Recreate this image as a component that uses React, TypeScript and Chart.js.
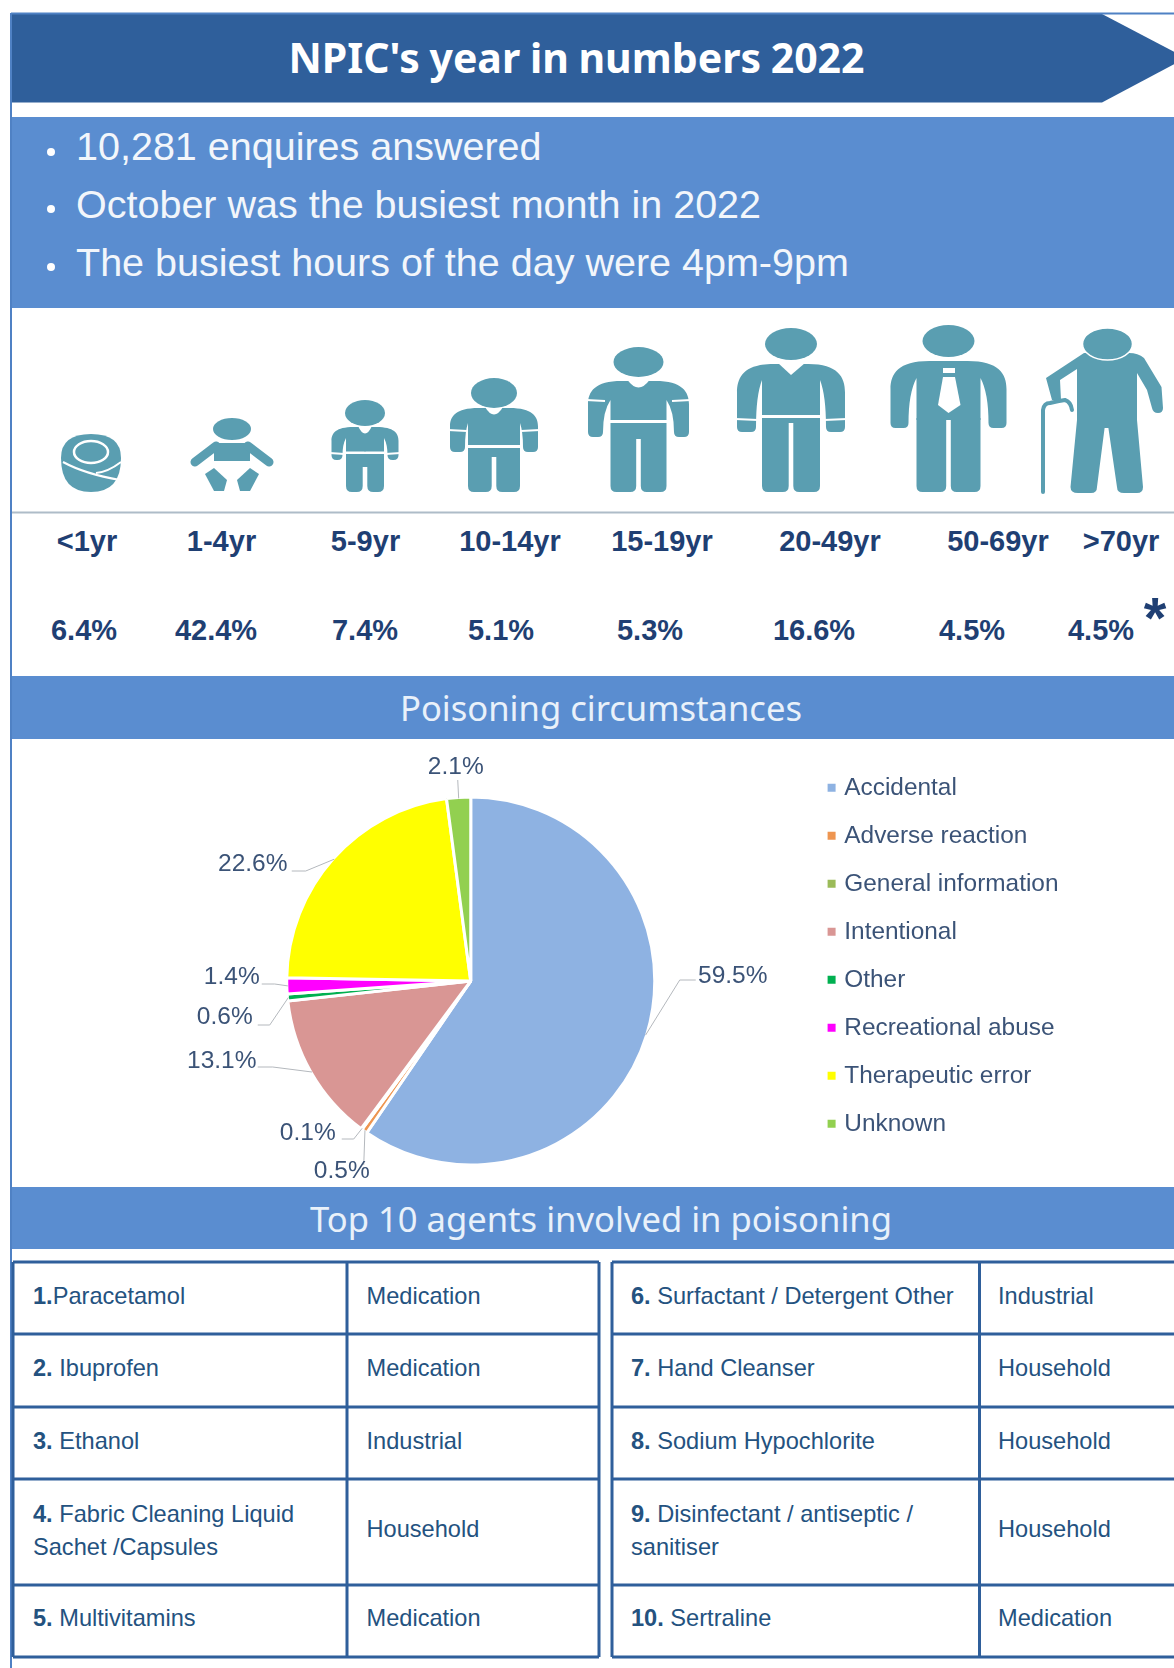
import React, { useEffect, useRef } from "react";
import { Chart, registerables } from "chart.js";

Chart.register(...registerables);

// ---- data ----
const pageTitle = "NPIC's year in numbers 2022";
const summaryLines = [
  "10,281 enquires answered",
  "October was the busiest month in 2022",
  "The busiest hours of the day were 4pm-9pm",
];
const ageBands = ["<1yr", "1-4yr", "5-9yr", "10-14yr", "15-19yr", "20-49yr", "50-69yr", ">70yr"];
const agePercents = ["6.4%", "42.4%", "7.4%", "5.1%", "5.3%", "16.6%", "4.5%", "4.5%"];
const pieHeading = "Poisoning circumstances";
const circumstances = [
  "Accidental",
  "Adverse reaction",
  "General information",
  "Intentional",
  "Other",
  "Recreational abuse",
  "Therapeutic error",
  "Unknown",
];
const circumstanceValues = [59.5, 0.5, 0.1, 13.1, 0.6, 1.4, 22.6, 2.1];
const agentsHeading = "Top 10 agents involved in poisoning";
const agentRanks = ["1.", "2. ", "3. ", "4. ", "5. ", "6. ", "7. ", "8. ", "9. ", "10. "];
const agentFirstLines = [
  "Paracetamol",
  "Ibuprofen",
  "Ethanol",
  "Fabric Cleaning Liquid",
  "Multivitamins",
  "Surfactant / Detergent Other",
  "Hand Cleanser",
  "Sodium Hypochlorite",
  "Disinfectant / antiseptic /",
  "Sertraline",
];
const agentSecondLines = ["", "", "", "Sachet /Capsules", "", "", "", "", "sanitiser", ""];
const agentTypes = [
  "Medication",
  "Medication",
  "Industrial",
  "Household",
  "Medication",
  "Industrial",
  "Household",
  "Household",
  "Household",
  "Medication",
];

// ---- styling and layout, kept apart from the values ----
const sliceColors = ["#8eb2e2", "#ee9550", "#9bbb59", "#d99694", "#00b050", "#ff00ff", "#ffff00", "#92d050"];
const NAVY = "#1f3f73";
const BAND = "#5a8dd0";
const DEEP = "#2f5f9b";
const ICON = "#5a9eb1";
const PIE_TEXT = "#3b5377";
const TABLE_TEXT = "#24527f";
const ARIAL = '"Liberation Sans", Arial, sans-serif';

const ageLabelX = [87, 221.5, 365.5, 510, 662, 830, 998, 1121];
const agePctX = [84, 216, 365, 501, 650, 814, 972, 1101];
const summaryY = [147, 205, 263];

// label centre and optional elbow, relative to the pie centre
const labelPlacement: { dx: number; dy: number; from: [number, number]; elbow?: [number, number] }[] = [
  { dx: 262, dy: -5, from: [225, -1], elbow: [209, -1] },
  { dx: -129, dy: 190, from: [-107, 184] },
  { dx: -163, dy: 152.5, from: [-129, 158], elbow: [-117, 158] },
  { dx: -249, dy: 80, from: [-213, 86], elbow: [-198, 86] },
  { dx: -246, dy: 36.5, from: [-213, 44], elbow: [-201, 44] },
  { dx: -239, dy: -4, from: [-209, 3], elbow: [-196, 3] },
  { dx: -218, dy: -117, from: [-179, -110], elbow: [-165, -110] },
  { dx: -15, dy: -214, from: [-13, -201] },
];

const pieLabels = {
  id: "pieLabels",
  afterDatasetsDraw(chart: any) {
    const { ctx } = chart;
    const arcs = chart.getDatasetMeta(0).data;
    ctx.save();
    ctx.font = `24.5px ${ARIAL}`;
    ctx.textAlign = "center";
    ctx.textBaseline = "middle";
    arcs.forEach((arc: any, i: number) => {
      const p = arc.getProps(["x", "y", "startAngle", "endAngle", "outerRadius"], true);
      const mid = (p.startAngle + p.endAngle) / 2;
      const place = labelPlacement[i];
      const edgeX = p.x + Math.cos(mid) * (p.outerRadius - 1);
      const edgeY = p.y + Math.sin(mid) * (p.outerRadius - 1);
      ctx.strokeStyle = "#b4b8bd";
      ctx.lineWidth = 1;
      ctx.beginPath();
      ctx.moveTo(p.x + place.from[0], p.y + place.from[1]);
      if (place.elbow) ctx.lineTo(p.x + place.elbow[0], p.y + place.elbow[1]);
      ctx.lineTo(edgeX, edgeY);
      ctx.stroke();
      ctx.fillStyle = PIE_TEXT;
      ctx.fillText(`${circumstanceValues[i].toFixed(1)}%`, p.x + place.dx, p.y + place.dy);
    });
    ctx.restore();
  },
};

function PieChart() {
  const ref = useRef<HTMLCanvasElement>(null);
  useEffect(() => {
    const chart = new Chart(ref.current as HTMLCanvasElement, {
      type: "pie",
      data: {
        labels: circumstances,
        datasets: [
          {
            data: circumstanceValues,
            backgroundColor: sliceColors,
            borderColor: "#ffffff",
            borderWidth: 3,
            radius: 184,
          },
        ],
      },
      options: {
        responsive: false,
        animation: false,
        events: [],
        layout: { padding: { top: 13, bottom: 0, left: 122, right: 105.5 } },
        plugins: {
          tooltip: { enabled: false },
          legend: {
            position: "right",
            align: "start",
            labels: {
              boxWidth: 1,
              boxHeight: 1,
              padding: 23.6,
              font: { size: 24.4, family: ARIAL },
              color: PIE_TEXT,
              generateLabels: () =>
                circumstances.map((text, i) => ({
                  text,
                  fillStyle: sliceColors[i],
                  strokeStyle: sliceColors[i],
                  lineWidth: 7,
                  fontColor: PIE_TEXT,
                  index: i,
                })),
            },
          },
        },
      } as any,
      plugins: [pieLabels],
    });
    return () => chart.destroy();
  }, []);
  return (
    <canvas
      ref={ref}
      width={1162}
      height={471}
      style={{ position: "absolute", left: 12, top: 739, width: 1162, height: 471, display: "block" }}
    />
  );
}

function Txt(props: {
  x: number;
  y: number;
  center?: boolean;
  size: number;
  color: string;
  bold?: boolean;
  font?: string;
  wordGap?: number;
  children: React.ReactNode;
}) {
  const { x, y, center, size, color, bold, font, wordGap, children } = props;
  return (
    <div
      style={{
        position: "absolute",
        left: x,
        top: y,
        transform: center ? "translate(-50%,-50%)" : "translateY(-50%)",
        fontFamily: font || ARIAL,
        fontSize: size,
        lineHeight: 1.2,
        fontWeight: bold ? 700 : 400,
        color,
        whiteSpace: "pre",
        wordSpacing: wordGap || 0,
      }}
    >
      {children}
    </div>
  );
}

type PersonSpec = {
  cx: number;
  headY: number;
  rx: number;
  ry: number;
  shY: number;
  pitY: number;
  waistY: number;
  legTop: number;
  gapTop: number;
  armBot: number;
  outer: number;
  torso: number;
  armW: number;
  footY: number;
  cuffY?: number;
};

function upperHalf(s: PersonSpec, sign: number) {
  const X = (v: number) => s.cx + sign * v;
  const n = s.torso * 0.6;
  const drop = (s.armBot - s.shY) * 0.42;
  const r = Math.min(s.armW / 2, 5);
  const inner = s.outer - s.armW;
  return [
    `M ${X(-0.5)} ${s.shY}`,
    `L ${X(n)} ${s.shY}`,
    `C ${X(s.outer - (s.outer - n) * 0.2)} ${s.shY} ${X(s.outer)} ${s.shY + drop * 0.45} ${X(s.outer)} ${s.shY + drop}`,
    `L ${X(s.outer)} ${s.armBot - r}`,
    `Q ${X(s.outer)} ${s.armBot} ${X(s.outer - r)} ${s.armBot}`,
    `L ${X(inner + r)} ${s.armBot}`,
    `Q ${X(inner)} ${s.armBot} ${X(inner)} ${s.armBot - r}`,
    `Q ${X(inner)} ${s.pitY + (s.armBot - s.pitY) * 0.3} ${X(s.torso)} ${s.pitY}`,
    `L ${X(s.torso)} ${s.waistY}`,
    `L ${X(-0.5)} ${s.waistY}`,
    "Z",
  ].join(" ");
}

function legHalf(s: PersonSpec, sign: number) {
  const X = (v: number) => s.cx + sign * v;
  const g = 2.3;
  const r = 6;
  return [
    `M ${X(-0.5)} ${s.legTop}`,
    `L ${X(s.torso)} ${s.legTop}`,
    `L ${X(s.torso)} ${s.footY - r}`,
    `Q ${X(s.torso)} ${s.footY} ${X(s.torso - r)} ${s.footY}`,
    `L ${X(g + r)} ${s.footY}`,
    `Q ${X(g)} ${s.footY} ${X(g)} ${s.footY - r}`,
    `L ${X(g)} ${s.gapTop}`,
    `L ${X(-0.5)} ${s.gapTop}`,
    "Z",
  ].join(" ");
}

function Person({ s, neck, children }: { s: PersonSpec; neck?: number; children?: React.ReactNode }) {
  return (
    <g>
      <path d={upperHalf(s, -1)} fill={ICON} />
      <path d={upperHalf(s, 1)} fill={ICON} />
      <path d={legHalf(s, -1)} fill={ICON} />
      <path d={legHalf(s, 1)} fill={ICON} />
      {s.cuffY !== undefined && (
        <g stroke="#fff" strokeWidth={2}>
          <line x1={s.cx - s.outer - 2} x2={s.cx - s.outer + s.armW + 2} y1={s.cuffY} y2={s.cuffY + 1} />
          <line x1={s.cx + s.outer + 2} x2={s.cx + s.outer - s.armW - 2} y1={s.cuffY} y2={s.cuffY + 1} />
        </g>
      )}
      {neck !== undefined && (
        <path
          d={`M ${s.cx - neck} ${s.shY - 1} Q ${s.cx} ${s.shY + 14} ${s.cx + neck} ${s.shY - 1} Z`}
          fill="#fff"
        />
      )}
      <ellipse cx={s.cx} cy={s.headY} rx={s.rx} ry={s.ry} fill={ICON} />
      {children}
    </g>
  );
}

function Icons() {
  return (
    <g>
      {/* swaddled newborn */}
      <path d="M 61 458 Q 61 434 91 434 Q 121 434 121 458 Q 121 492 91 492 Q 61 492 61 458 Z" fill={ICON} />
      <ellipse cx={91} cy={452} rx={17} ry={11} fill="none" stroke="#fff" strokeWidth={2.5} />
      <path d="M 63 462 Q 85 474 120 480 M 96 473 Q 108 472 121 462" fill="none" stroke="#fff" strokeWidth={2} />
      {/* infant */}
      <ellipse cx={232} cy={429} rx={19} ry={11} fill={ICON} />
      <rect x={214} y={443} width={36} height={18} fill={ICON} />
      <path
        d="M 216 446 L 195 462 M 248 446 L 269 462"
        stroke={ICON}
        strokeWidth={9}
        strokeLinecap="round"
        fill="none"
      />
      <path d="M 205 474 L 214 468 L 227 480 L 224 491 L 214 491 Z" fill={ICON} />
      <path d="M 259 474 L 250 468 L 237 480 L 240 491 L 250 491 Z" fill={ICON} />
      <Person
        neck={7}
        s={{ cx: 365, headY: 413, rx: 20, ry: 13, shY: 427, pitY: 438, waistY: 451.5, legTop: 454, gapTop: 467, armBot: 460, outer: 33.5, torso: 19, armW: 11, footY: 492, cuffY: 453 }}
      />
      <Person
        neck={9}
        s={{ cx: 494, headY: 393, rx: 23, ry: 15, shY: 408, pitY: 423, waistY: 445, legTop: 448, gapTop: 457, armBot: 452, outer: 44, torso: 26, armW: 15, footY: 492, cuffY: 430 }}
      />
      <Person
        neck={11}
        s={{ cx: 638.5, headY: 362, rx: 25, ry: 15, shY: 381, pitY: 400, waistY: 420, legTop: 423, gapTop: 439, armBot: 437, outer: 50.5, torso: 28, armW: 15, footY: 492, cuffY: 400 }}
      />
      <Person
        s={{ cx: 791, headY: 344, rx: 26, ry: 16, shY: 364, pitY: 380, waistY: 415, legTop: 418, gapTop: 423, armBot: 432, outer: 54, torso: 29, armW: 19, footY: 492, cuffY: 419 }}
      >
        <path d="M 778 363 L 791 375 L 805 363 Z" fill="#fff" />
      </Person>
      <Person
        s={{ cx: 948.5, headY: 341, rx: 26, ry: 16, shY: 361, pitY: 378, waistY: 420, legTop: 418, gapTop: 419, armBot: 428, outer: 58, torso: 32, armW: 18, footY: 492 }}
      >
        <path d="M 943 368 L 955 368 L 955 373 L 943 373 Z" fill="#fff" />
        <path d="M 943 377 L 955 377 L 960.5 405 L 948.5 413 L 938 405 Z" fill="#fff" />
      </Person>
      {/* elder with cane */}
      <path
        d="M 1084 353 L 1046 378 L 1052 400 L 1061 400 L 1060 380 L 1077 369 L 1077 420 L 1070.5 487 Q 1070.5 493 1078 493 L 1091 493 Q 1097 493 1097 487 L 1104.6 428 L 1108.4 428 L 1117 487 Q 1117 493 1124 493 L 1137 493 Q 1143 493 1143 487 L 1137 420 L 1137 373 L 1147 390 L 1152 408 Q 1153 413 1158 413 Q 1163 413 1163 408 L 1161.5 387 L 1144 358 Q 1138 353 1129 353 Z"
        fill={ICON}
      />
      <ellipse cx={1107.5} cy={344} rx={25} ry={16} fill={ICON} stroke="#fff" strokeWidth={1.5} />
      <path d="M 1043 492 L 1043 410 Q 1044 403 1050 403 Q 1058 401 1065 400 Q 1071 402 1072 410" fill="none" stroke={ICON} strokeWidth={4} strokeLinecap="round" />
    </g>
  );
}

const tableLeft = { x0: 13, x1: 347, x2: 599, nameX: 33, typeX: 366.5 };
const tableRight = { x0: 612, x1: 979.5, x2: 1180, nameX: 631, typeX: 998 };
const rowEdges = [1262, 1334, 1407, 1479, 1585, 1657];
const rowCentres = [1296, 1368, 1440.5, 1529, 1618];
const rowLineY: [number, number] = [1513.5, 1546.5];

function AgentRows({ offset, t }: { offset: number; t: typeof tableLeft }) {
  const size = 23.6;
  return (
    <>
      {rowCentres.map((yc, r) => {
        const i = r + offset;
        const two = agentSecondLines[i] !== "";
        return (
          <React.Fragment key={i}>
            <Txt x={t.nameX} y={two ? rowLineY[0] : yc} size={size} color={TABLE_TEXT}>
              <b>{agentRanks[i]}</b>
              {agentFirstLines[i]}
            </Txt>
            {two && (
              <Txt x={t.nameX} y={rowLineY[1]} size={size} color={TABLE_TEXT}>
                {agentSecondLines[i]}
              </Txt>
            )}
            <Txt x={t.typeX} y={yc} size={size} color={TABLE_TEXT}>
              {agentTypes[i]}
            </Txt>
          </React.Fragment>
        );
      })}
    </>
  );
}

function TableGrid({ t }: { t: typeof tableLeft }) {
  return (
    <g stroke={DEEP} strokeWidth={3} fill="none">
      {rowEdges.map((y) => (
        <line key={y} x1={t.x0} x2={t.x2} y1={y} y2={y} />
      ))}
      <line x1={t.x0} x2={t.x0} y1={rowEdges[0]} y2={rowEdges[5]} />
      <line x1={t.x1} x2={t.x1} y1={rowEdges[0]} y2={rowEdges[5]} />
      <line x1={t.x2} x2={t.x2} y1={rowEdges[0]} y2={rowEdges[5]} />
    </g>
  );
}

export default function App() {
  useEffect(() => {
    document.body.style.margin = "0";
    document.body.style.background = "#fff";
  }, []);
  return (
    <div style={{ position: "absolute", left: 0, top: 0, width: 1174, height: 1668, overflow: "hidden", background: "#fff" }}>
      <svg width={1174} height={1668} style={{ position: "absolute", left: 0, top: 0 }}>
        <polygon points="12,14 1102,14 1186,58 1102,102.5 12,102.5" fill={DEEP} />
        <line x1={11} x2={1174} y1={13.5} y2={13.5} stroke="#4f81c4" strokeWidth={2} />
        <line x1={11} x2={11} y1={13} y2={1668} stroke="#4f81c4" strokeWidth={2} />
        <rect x={12} y={117} width={1162} height={191} fill={BAND} />
        <rect x={12} y={676} width={1162} height={63} fill={BAND} />
        <rect x={12} y={1187} width={1162} height={62} fill={BAND} />
        {[152, 209, 267].map((y) => (
          <circle key={y} cx={51} cy={y} r={4} fill="#fff" />
        ))}
        <Icons />
        <line x1={12} x2={1174} y1={512.5} y2={512.5} stroke="#aebcc8" strokeWidth={2} />
        <TableGrid t={tableLeft} />
        <TableGrid t={tableRight} />
      </svg>

      <Txt x={576.5} y={58} center size={41} bold color="#fff" font='"Noto Sans", sans-serif' wordGap={-1}>
        {pageTitle}
      </Txt>
      {summaryLines.map((line, i) => (
        <Txt key={line} x={76} y={summaryY[i]} size={39.5} color="#f2f6fb">
          {line}
        </Txt>
      ))}
      {ageBands.map((band, i) => (
        <Txt key={band} x={ageLabelX[i]} y={541} center size={29} bold color={NAVY}>
          {band}
        </Txt>
      ))}
      {agePercents.map((pct, i) => (
        <Txt key={i} x={agePctX[i]} y={629.5} center size={29} bold color={NAVY}>
          {pct}
        </Txt>
      ))}
      <Txt x={1155} y={617.5} center size={58} bold color={NAVY}>
        *
      </Txt>
      <Txt x={601} y={707.5} center size={34.6} color="#e9f1fa" font='"Noto Sans", sans-serif'>
        {pieHeading}
      </Txt>
      <Txt x={601} y={1218.5} center size={34.6} color="#e9f1fa" font='"Noto Sans", sans-serif'>
        {agentsHeading}
      </Txt>
      <PieChart />
      <AgentRows offset={0} t={tableLeft} />
      <AgentRows offset={5} t={tableRight} />
    </div>
  );
}
